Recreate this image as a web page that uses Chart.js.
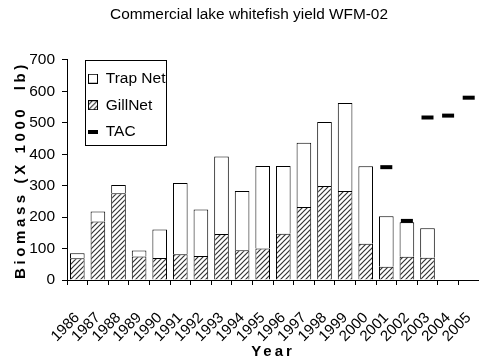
<!DOCTYPE html>
<html><head><meta charset="utf-8">
<script src="https://cdn.jsdelivr.net/npm/chart.js@4"></script>
<style>html,body{margin:0;padding:0;background:#fff}canvas{display:block}</style>
</head><body>
<canvas id="c" width="479" height="362"></canvas>
<script>
const years = ['1986','1987','1988','1989','1990','1991','1992','1993','1994','1995','1996','1997','1998','1999','2000','2001','2002','2003','2004','2005'];
const gillNet = [69,186,276,75,70,82,76,146,95,100,147,232,299,283,115,42,74,71,null,null];
const trapNet = [16,32,26,19,91,227,148,247,188,263,216,205,204,280,247,161,110,94,null,null];
const tac = [null,null,null,null,null,null,null,null,null,null,null,null,null,null,null,359,188,517,523,580];
const yMin = 0, yMax = 700, yStep = 100;

const FONT = "'Liberation Sans',Arial,sans-serif";

function hatchPattern() {
  const t = document.createElement('canvas');
  t.width = 5; t.height = 5;
  const g = t.getContext('2d');
  g.fillStyle = '#fff'; g.fillRect(0,0,5,5);
  g.strokeStyle = '#333'; g.lineWidth = 1.2;
  g.beginPath();
  g.moveTo(-1,6); g.lineTo(6,-1);
  g.moveTo(-1,1); g.lineTo(1,-1);
  g.moveTo(4,6); g.lineTo(6,4);
  g.stroke();
  return document.getElementById('c').getContext('2d').createPattern(t,'repeat');
}
const hatch = hatchPattern();

function icon(kind) {
  const c = document.createElement('canvas');
  const g = c.getContext('2d');
  if (kind === 'tac') {
    c.width = 10; c.height = 4;
    g.fillStyle = '#000'; g.fillRect(0,0,10,4);
  } else {
    c.width = 10; c.height = 10;
    g.fillStyle = kind === 'gill' ? hatch : '#fff';
    g.fillRect(0,0,10,10);
    g.strokeStyle = '#000'; g.lineWidth = 1;
    g.strokeRect(0.5,0.5,9,9);
  }
  return c;
}
const icons = {trap: icon('trap'), gill: icon('gill'), tac: icon('tac')};

const layoutTweaks = {
  id: 'layoutTweaks',
  afterLayout(chart) {
    const t = chart.titleBlock;
    if (t) { t.left += 9.5; t.right += 9.5; }
    const lg = chart.legend, ca = chart.chartArea;
    if (lg) {
      lg.left = ca.left + 10; lg.right = lg.left + lg.width;
      lg.top = ca.top; lg.bottom = lg.top + lg.height;
    }
  },
  beforeDraw(chart) {
    ['x','y'].forEach(id => {
      const s = chart.scales[id];
      if (!s || s._spaced) return;
      const orig = s.drawTitle;
      s.drawTitle = function() {
        const ctx = this.ctx;
        ctx.save();
        ctx.letterSpacing = id === 'y' ? '3.6px' : '3px';
        orig.call(this);
        ctx.restore();
      };
      s._spaced = true;
    });
  },
  afterDraw(chart) {
    const hb = chart.legend && chart.legend.legendHitBoxes;
    if (!hb || !hb.length) return;
    let l = Infinity, r = -Infinity, t = Infinity, b = -Infinity;
    hb.forEach(h => { l = Math.min(l, h.left); r = Math.max(r, h.left + h.width); t = Math.min(t, h.top); b = Math.max(b, h.top + h.height); });
    const ctx = chart.ctx;
    ctx.save();
    ctx.strokeStyle = '#000'; ctx.lineWidth = 1;
    const x0 = Math.round(l - 3), y0 = Math.round(t - 11), x1 = Math.round(r + 1), y1 = Math.round(b + 6);
    ctx.strokeRect(x0 + 0.5, y0 + 0.5, x1 - x0, y1 - y0);
    ctx.restore();
  }
};

new Chart(document.getElementById('c'), {
  type: 'bar',
  data: {
    labels: years,
    datasets: [
      { label: 'GillNet', data: gillNet, stack: 'catch', order: 1, backgroundColor: hatch, borderColor: '#000', borderWidth: 1, borderSkipped: 'start', barPercentage: 0.71, categoryPercentage: 1 },
      { label: 'Trap Net', data: trapNet, stack: 'catch', order: 1, backgroundColor: '#fff', borderColor: '#000', borderWidth: 1, borderSkipped: 'start', barPercentage: 0.71, categoryPercentage: 1 },
      { label: 'TAC', type: 'line', data: tac, stack: 'tac', order: 0, showLine: false, borderColor: '#000', backgroundColor: '#000', pointStyle: 'line', pointRadius: 6, pointHoverRadius: 6, pointBorderWidth: 4, pointHoverBorderWidth: 4 }
    ]
  },
  options: {
    responsive: false,
    animation: false,
    devicePixelRatio: 1,
    layout: { padding: 0, autoPadding: false },
    plugins: {
      tooltip: { enabled: false },
      title: {
        display: true,
        text: 'Commercial lake whitefish yield WFM-02',
        color: '#000',
        font: { family: FONT, size: 15.4, weight: 'normal', lineHeight: 1.2 },
        padding: { top: 5.8, bottom: 35.7 }
      },
      legend: {
        position: 'chartArea',
        align: 'start',
        labels: {
          usePointStyle: true,
          pointStyleWidth: 10,
          padding: 11,
          color: '#000',
          font: { family: FONT, size: 15.5, lineHeight: 1 },
          generateLabels: () => [
            { text: 'Trap Net', pointStyle: icons.trap, datasetIndex: 1, fillStyle: '#fff', strokeStyle: '#000', lineWidth: 0, hidden: false, fontColor: '#000' },
            { text: 'GillNet', pointStyle: icons.gill, datasetIndex: 0, fillStyle: '#fff', strokeStyle: '#000', lineWidth: 0, hidden: false, fontColor: '#000' },
            { text: 'TAC', pointStyle: icons.tac, datasetIndex: 2, fillStyle: '#000', strokeStyle: '#000', lineWidth: 0, hidden: false, fontColor: '#000' }
          ]
        }
      }
    },
    scales: {
      x: {
        stacked: true,
        offset: true,
        afterFit: (s) => { s.height = 82; s.paddingRight = 0; },
        grid: { offset: true, drawOnChartArea: false, drawTicks: true, tickLength: 5, color: '#000', lineWidth: 1 },
        border: { display: true, color: '#000', width: 1 },
        ticks: { autoSkip: false, minRotation: 45, maxRotation: 45, padding: 24, color: '#000', font: { family: FONT, size: 15 } },
        title: { display: true, text: 'Year', color: '#000', font: { family: FONT, size: 15, weight: 'bold', lineHeight: 1.2 }, padding: { top: 0, bottom: 1 } }
      },
      y: {
        stacked: true,
        min: yMin, max: yMax,
        afterFit: (s) => { s.width = 67; },
        grid: { drawOnChartArea: false, drawTicks: true, tickLength: 5, color: '#000', lineWidth: 1 },
        border: { display: true, color: '#000', width: 1 },
        ticks: { stepSize: yStep, padding: 7, color: '#000', font: { family: FONT, size: 15.5 } },
        title: { display: true, text: 'Biomass (X 1000  lb)', color: '#000', font: { family: FONT, size: 15, weight: 'bold', lineHeight: 1.2 }, padding: { top: 12, bottom: 0 } }
      }
    }
  },
  plugins: [layoutTweaks]
});
</script>
</body></html>
